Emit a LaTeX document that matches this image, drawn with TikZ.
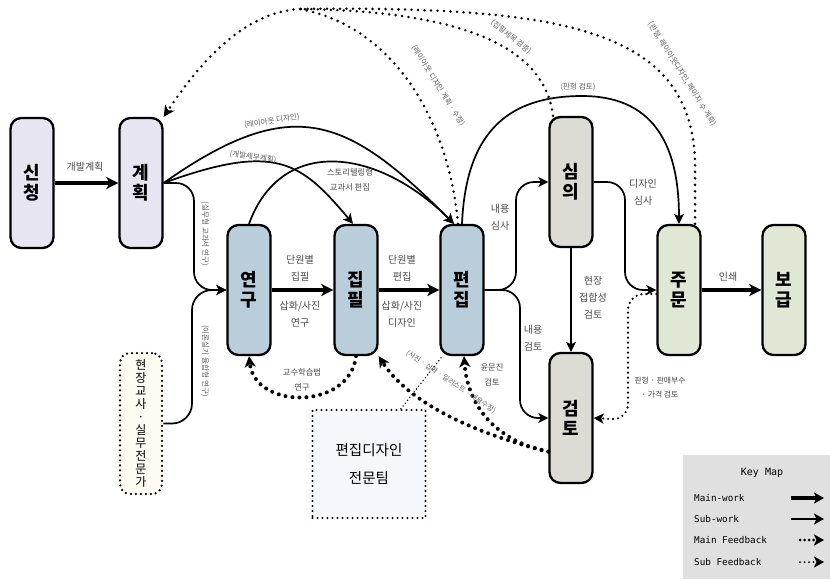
\documentclass[tikz,border=0pt]{standalone}
\usepackage{fontspec}
\setmainfont{Noto Sans CJK KR}
\newfontfamily\keyfont{DejaVu Sans Mono}
\usetikzlibrary{arrows.meta}
\definecolor{cPlan}{HTML}{E7E5F1}
\definecolor{cBlue}{HTML}{B9CEDA}
\definecolor{cGray}{HTML}{DCDCD5}
\definecolor{cGreen}{HTML}{E0E7D5}
\definecolor{cCream}{HTML}{FDFBF2}
\definecolor{cPale}{HTML}{F4F8FC}
\definecolor{cKey}{HTML}{E0E0E0}
\definecolor{cTxt}{HTML}{484848}
\definecolor{cSml}{HTML}{606060}
\begin{document}
\begin{tikzpicture}[x=1pt,y=-1pt,
  nbox/.style={draw, line width=2.3pt, rounded corners=11pt, minimum width=43pt, minimum height=130pt,
    align=center, inner sep=0pt, font=\fontsize{18}{20}\selectfont\bfseries},
  mainw/.style={line width=3.8pt, -{Stealth[length=12pt,width=12pt,inset=3pt]}},
  subw/.style={line width=1.7pt, -{Stealth[length=10pt,width=10pt,inset=2.5pt]}},
  mfb/.style={line width=4pt, line cap=round, dash pattern=on 0pt off 7pt, -{Stealth[length=11pt,width=11pt,inset=3pt]}},
  sfb/.style={line width=2.4pt, line cap=round, dash pattern=on 0pt off 5pt, -{Stealth[length=10pt,width=10pt,inset=2.5pt]}},
  tfb/.style={line width=2.8pt, line cap=round, dash pattern=on 0pt off 6.5pt},
  lbl/.style={font=\fontsize{10}{17}\selectfont, text=cTxt, align=center, inner sep=0pt},
  mlbl/.style={font=\fontsize{8.3}{15}\selectfont, text=cTxt, align=center, inner sep=0pt},
  slbl/.style={font=\fontsize{7.6}{9}\selectfont, text=cSml, inner sep=0pt},
  keytxt/.style={font=\keyfont\fontsize{9.3}{11}\selectfont, inner sep=0pt}
]
\useasboundingbox (0,0) rectangle (830,579);

% main nodes
\node[nbox, fill=cPlan] (sc) at (32,183) {신\\청};
\node[nbox, fill=cPlan] (gh) at (141,183) {계\\획};
\node[nbox, fill=cBlue] (yg) at (249,290) {연\\구};
\node[nbox, fill=cBlue] (jp) at (356,290) {집\\필};
\node[nbox, fill=cBlue] (pj) at (462,290) {편\\집};
\node[nbox, fill=cGray] (si) at (571,182) {심\\의};
\node[nbox, fill=cGray] (gt) at (571,418) {검\\토};
\node[nbox, fill=cGreen] (jm) at (679,290) {주\\문};
\node[nbox, fill=cGreen] (bg) at (784,290) {보\\급};

% dotted boxes
\node[draw, line width=2.5pt, line cap=round, dash pattern=on 0pt off 5pt, rounded corners=10pt, fill=cCream,
  minimum width=42pt, minimum height=141pt, inner sep=0pt, align=center,
  font=\fontsize{12}{13}\selectfont] (hj) at (141,423.5) {현\\장\\교\\사\\·\\실\\무\\전\\문\\가};
\node[draw, line width=2.4pt, line cap=round, dash pattern=on 0pt off 5pt, fill=cPale,
  minimum width=113pt, minimum height=108pt, inner sep=0pt, align=center,
  font=\fontsize{14.5}{28}\selectfont] (pd) at (369,464) {편집디자인\\전문팀};

% main work
\draw[mainw] (sc.east) -- (gh.west);
\draw[mainw] (yg.east) -- (jp.west);
\draw[mainw] (jp.east) -- (pj.west);
\draw[mainw] (jm.east) -- (bg.west);

% sub work
\draw[subw, rounded corners=18pt] (gh.east) -- (194,183) -- (194,290) -- (yg.west);
\draw[subw, rounded corners=20pt] (hj.east) -- (192,423.5) -- (192,290) -- (yg.west);
\draw[subw] (gh.east) .. controls (276,142) and (301,162) .. ([xshift=-3pt]jp.north);
\draw[subw] (gh.east) .. controls (294,91) and (348,118) .. ([xshift=-8pt]pj.north);
\draw[subw] (yg.north) .. controls (281,136) and (377,147) .. ([xshift=-8pt]pj.north);
\draw[subw, rounded corners=18pt] (pj.east) -- (516,290) -- (516,182) -- (si.west);
\draw[subw, rounded corners=18pt] (pj.east) -- (520,290) -- (520,418) -- (gt.west);
\draw[subw, rounded corners=18pt] (si.east) -- (625,182) -- (625,290) -- (jm.west);
\draw[subw] (si.south) -- (gt.north);
\draw[subw] (pj.north) .. controls (466,130) and (510,96) .. (582,96) .. controls (650,96) and (679,140) .. (jm.north);

% main feedback
\draw[mfb] (jp.south) .. controls (350,410) and (255,410) .. (yg.south);
\draw[mfb] (gt.236) .. controls (480,435) and (410,405) .. (jp.south east);
\draw[mfb] (gt.236) .. controls (500,442) and (468,410) .. ([xshift=2pt]pj.south);

% sub feedback
\draw[sfb, rounded corners=16pt] (jm.190) -- (628,294) -- (628,420) -- (gt.east);
\draw[line width=1.6pt, line cap=round, dash pattern=on 0pt off 3.6pt] (pd.60) -- ([xshift=3pt]pj.south west);

% top feedback
\coordinate (J) at (300,9);
\draw[tfb] ([xshift=16pt]jm.north) -- (695,160) .. controls (690,28) and (560,6) .. (J);
\draw[tfb] ([xshift=-18pt]si.north) .. controls (545,50) and (470,11) .. (J);
\draw[tfb] ([xshift=-4pt]pj.north) .. controls (450,130) and (400,28) .. (J);
\draw[tfb, -{Stealth[length=11pt,width=11pt,inset=3pt]}] (J) .. controls (240,12) and (195,70) .. (gh.north east);

% labels
\node[lbl] (lplan) at (85,167) {개발계획};
\node[lbl] (lu1) at (300,268.5) {단원별\\집필};
\node[lbl] (la1) at (300,314.5) {삽화/사진\\연구};
\node[lbl] (lu2) at (402,268.5) {단원별\\편집};
\node[lbl] (la2) at (402,314.5) {삽화/사진\\디자인};
\node[lbl] (lprint) at (728,277) {인쇄};
\node[mlbl] (lstory) at (350,180) {스토리텔링형\\교과서 편집};
\node[lbl] (lrv1) at (500,217) {내용\\심사};
\node[lbl] (lrv2) at (533,338) {내용\\검토};
\node[lbl] (lds) at (643,192) {디자인\\심사};
\node[lbl] (lsite) at (593,298) {현장\\접합성\\검토};
\node[mlbl] (lteach) at (302,380) {교수학습법\\연구};
\node[mlbl] (lyoon) at (492,375) {윤문진\\검토};
\node[mlbl, font=\fontsize{7.8}{14}\selectfont] (lprice) at (660,388) {판형 · 판매부수\\· 가격 검토};

\node[slbl, rotate=9] (s1) at (272,121) {(레이아웃 디자인)};
\node[slbl, rotate=-8] (s2) at (253,157) {(개발세부계획)};
\node[slbl, rotate=-90] (s3) at (205,234) {(실무형 교과서 연구)};
\node[slbl, rotate=-90] (s4) at (205,361) {(이론실기 융합형 연구)};
\node[slbl, rotate=-58] (s5) at (438,86) {(레이아웃 디자인 계획 · 수정)};
\node[slbl, rotate=-38] (s6) at (511,37) {(집필세목 검증)};
\node[slbl] (s7) at (578,87) {(판형 검토)};
\node[slbl, rotate=-58] (s8) at (682,74) {(판형, 레이아웃디자인, 페이지 수 계획)};
\node[slbl, font=\fontsize{7.2}{9}\selectfont, rotate=-34] (s9) at (451,382) {(사진 · 삽화 · 일러스트 · 내용수정)};

% key map
\node[fill=cKey, minimum width=147pt, minimum height=124pt, inner sep=0pt] (key) at (756.5,517) {};
\node[keytxt, font=\keyfont\fontsize{10}{12}\selectfont] (kt) at (762,473) {Key Map};
\node[keytxt, anchor=west] (k1) at (694,498) {Main-work};
\node[keytxt, anchor=west] (k2) at (694,519) {Sub-work};
\node[keytxt, anchor=west] (k3) at (694,540) {Main Feedback};
\node[keytxt, anchor=west] (k4) at (694,562) {Sub Feedback};
\coordinate (k1a) at (791,498); \coordinate (k1b) at (824,498);
\coordinate (k2a) at (791,519); \coordinate (k2b) at (824,519);
\coordinate (k3a) at (800,540); \coordinate (k3b) at (824,540);
\coordinate (k4a) at (800,562); \coordinate (k4b) at (824,562);
\draw[line width=3.6pt, -{Stealth[length=10pt,width=11pt,inset=2.5pt]}] (k1a) -- (k1b);
\draw[line width=1.7pt, -{Stealth[length=10pt,width=11pt,inset=2.5pt]}] (k2a) -- (k2b);
\draw[line width=3pt, line cap=round, dash pattern=on 0pt off 4.5pt, -{Stealth[length=10pt,width=11pt,inset=2.5pt]}] (k3a) -- (k3b);
\draw[line width=2pt, line cap=round, dash pattern=on 0pt off 4.5pt, -{Stealth[length=10pt,width=11pt,inset=2.5pt]}] (k4a) -- (k4b);
\end{tikzpicture}
\end{document}
